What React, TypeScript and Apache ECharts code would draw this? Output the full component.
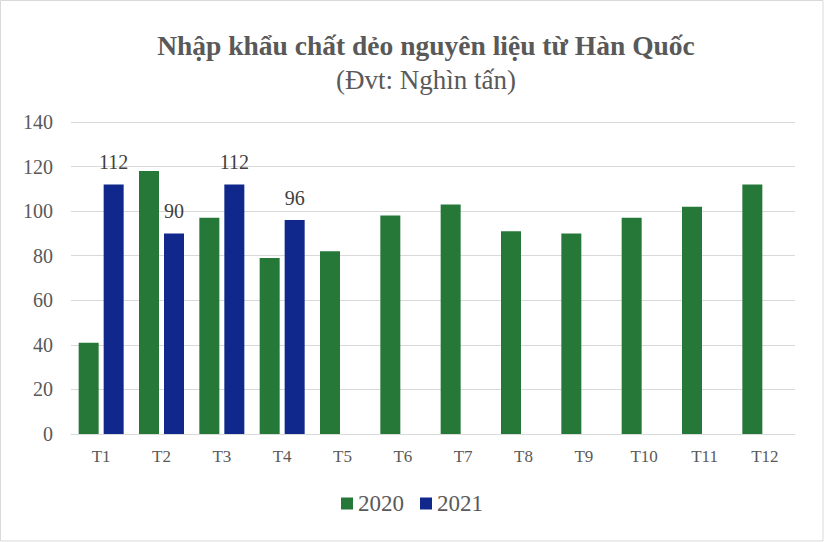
import React, { useEffect, useRef } from "react";
import * as echarts from "echarts";

const categories = ["T1", "T2", "T3", "T4", "T5", "T6", "T7", "T8", "T9", "T10", "T11", "T12"];
const values2020 = [41, 118, 97, 79, 82, 98, 103, 91, 90, 97, 102, 112];
const values2021: (number | null)[] = [112, 90, 112, 96, null, null, null, null, null, null, null, null];
const seriesNames = ["2020", "2021"];
const titleText = "Nhập khẩu chất dẻo nguyên liệu từ Hàn Quốc";
const subtitleText = "(Đvt: Nghìn tấn)";

const FONT = "Liberation Serif";
const TEXT = "#595959";

export default function App() {
  const ref = useRef<HTMLDivElement>(null);
  useEffect(() => {
    if (!ref.current) return;
    const chart = echarts.init(ref.current, undefined, { renderer: "svg" });
    chart.setOption({
      animation: false,
      backgroundColor: "#ffffff",
      textStyle: { fontFamily: FONT },
      graphic: [
        {
          type: "rect",
          shape: { x: 0.5, y: 0.5, width: 822.5, height: 540.5 },
          style: { fill: "none", stroke: "#d9d9d9", lineWidth: 1 },
          silent: true,
        },
        {
          type: "text",
          x: 426,
          y: 45,
          style: {
            text: titleText,
            fontFamily: FONT,
            fontWeight: "bold",
            fontSize: 27.5,
            fill: TEXT,
            textAlign: "center",
            textVerticalAlign: "middle",
          },
        },
        {
          type: "text",
          x: 426,
          y: 80,
          style: {
            text: subtitleText,
            fontFamily: FONT,
            fontSize: 27,
            fill: TEXT,
            textAlign: "center",
            textVerticalAlign: "middle",
          },
        },
      ],
      grid: { left: 71, right: 29, top: 122, bottom: 108, containLabel: false },
      legend: {
        data: seriesNames,
        bottom: 22,
        left: "center",
        icon: "rect",
        itemWidth: 12,
        itemHeight: 12,
        itemGap: 16,
        textStyle: { fontSize: 23, color: TEXT, fontFamily: FONT },
      },
      xAxis: {
        type: "category",
        data: categories,
        axisLine: { lineStyle: { color: "#d9d9d9", width: 1 } },
        axisTick: { show: false },
        axisLabel: { color: TEXT, fontSize: 17, margin: 14, fontFamily: FONT },
      },
      yAxis: {
        type: "value",
        min: 0,
        max: 140,
        interval: 20,
        axisLine: { show: false },
        axisTick: { show: false },
        axisLabel: { color: TEXT, fontSize: 20, margin: 18, fontFamily: FONT },
        splitLine: { lineStyle: { color: "#d9d9d9", width: 1 } },
      },
      series: [
        {
          name: seriesNames[0],
          type: "bar",
          data: values2020,
          barWidth: 20,
          barGap: "25%",
          itemStyle: { color: "#267838" },
        },
        {
          name: seriesNames[1],
          type: "bar",
          data: values2021,
          barWidth: 20,
          barGap: "25%",
          itemStyle: { color: "#10288c" },
          label: {
            show: true,
            position: "top",
            distance: 12,
            fontSize: 20,
            color: "#404040",
            fontFamily: FONT,
          },
        },
      ],
    });
    return () => chart.dispose();
  }, []);
  return (
    <div
      ref={ref}
      style={{ position: "fixed", left: 0, top: 0, width: 824, height: 542 }}
    />
  );
}
